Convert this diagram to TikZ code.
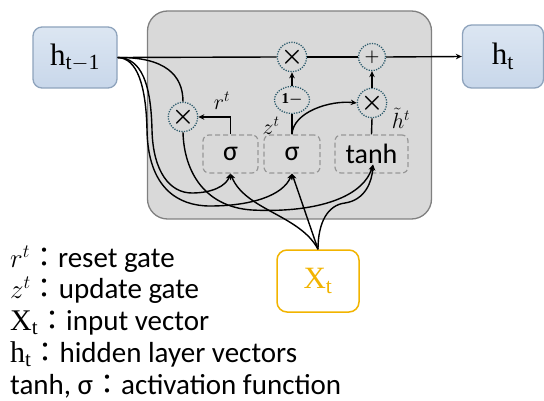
\RequirePackage{fix-cm}
\documentclass[tikz,border=0pt]{standalone}
\usepackage{amsmath}
\usepackage{fontspec}
\setmainfont{Liberation Serif}
\newfontfamily\calfont{Carlito}
\newfontfamily\cjk{Noto Sans CJK JP}
\usetikzlibrary{shapes.geometric,arrows.meta}
\definecolor{cellgray}{HTML}{D9D9D9}
\definecolor{cellborder}{HTML}{808080}
\definecolor{htop}{HTML}{DCE6F2}
\definecolor{hbot}{HTML}{C8D7EA}
\definecolor{hborder}{HTML}{8EA3BC}
\definecolor{dotc}{HTML}{2B5A6B}
\definecolor{xorange}{HTML}{F2B400}
\definecolor{dashc}{HTML}{979797}
\newcommand{\lgcolon}{{\cjk\fontsize{28}{30}\selectfont ：}}
\newcommand{\lgtxt}[1]{{\calfont\fontsize{29}{30}\selectfont #1}}
\newcommand{\lgvec}[2]{{\fontsize{30}{32}\selectfont$\mathrm{#1}_{\mathrm{#2}}$}}
\begin{document}
\begin{tikzpicture}[x=1pt,y=-1pt,
  ln/.style={line width=1.4pt},
  arr/.style={ln,-{Stealth[length=6pt,width=5.5pt]}},
  cellbox/.style={draw=cellborder, fill=cellgray, line width=1.3pt, rounded corners=20pt,
    minimum width=284pt, minimum height=208pt, inner sep=0pt},
  hbox/.style={draw=hborder, line width=1.3pt, rounded corners=9pt, top color=htop, bottom color=hbot,
    inner sep=0pt, font=\fontsize{31}{36}\selectfont},
  opc/.style={circle, draw=dotc, dash pattern=on 1.2pt off 1.3pt, line width=1.3pt, fill=cellgray,
    minimum size=27pt, inner sep=0pt},
  gatebox/.style={draw=dashc, dash pattern=on 5pt off 3pt, line width=1.2pt, rounded corners=6pt,
    minimum height=38pt, inner sep=0pt, font=\calfont\fontsize{28}{30}\selectfont},
  lab/.style={inner sep=0pt, font=\fontsize{22}{24}\selectfont},
  legend/.style={anchor=base west, inner sep=0pt, font=\fontsize{27}{30}\selectfont},
]
\useasboundingbox (0,0) rectangle (544,401);

% cell
\node[cellbox] (cell) at (289.5,115) {};

% h boxes
\node[hbox, minimum width=84pt, minimum height=61pt] (hprev) at (75,57.5) {$\mathrm{h}_{\mathrm{t-1}}$};
\node[hbox, minimum width=81pt, minimum height=63pt] (hnext) at (503,56.5) {$\mathrm{h}_{\mathrm{t}}$};

% operators
\node[opc] (mul1) at (292,57) {\fontsize{25}{26}\selectfont$\boldsymbol{\times}$};
\node[opc] (plus) at (372,57) {\fontsize{17}{20}\selectfont$\boldsymbol{+}$};
\node[opc, ellipse, minimum width=35pt, minimum height=27pt] (onem) at (292,100) {\fontsize{15}{18}\selectfont$\mathbf{1}\boldsymbol{-}$};
\node[opc] (mul2) at (372,103) {\fontsize{25}{26}\selectfont$\boldsymbol{\times}$};
\node[opc] (mulr) at (183,117) {\fontsize{25}{26}\selectfont$\boldsymbol{\times}$};

% gates
\node[gatebox, minimum width=55pt] (s1) at (230.5,154) {σ};
\node[gatebox, minimum width=56pt] (s2) at (292,154) {σ};
\node[gatebox, minimum width=73pt] (th) at (371.5,154) {tanh};

% input
\node[draw=xorange, line width=1.5pt, rounded corners=10pt, fill=white, minimum width=82pt, minimum height=62pt,
  inner sep=0pt, text=xorange, font=\fontsize{31}{36}\selectfont] (xin) at (318,281) {$\mathrm{X}_{\mathrm{t}}$};

% labels
\node[lab] (rl) at (222,101) {$r^{t}$};
\node[lab] (zl) at (271,126) {$z^{t}$};
\node[lab] (hl) at (401,118) {$\tilde{h}^{t}$};

% main line
\draw[ln] (hprev.east) -- (mul1.west);
\draw[ln] (mul1.east) -- (plus.west);
\draw[arr] (plus.east) -- (hnext.west);

% inside connections
\draw[arr] (onem.north) -- (mul1.south);
\draw[arr] (mul2.north) -- (plus.south);
\draw[ln] (th.north) -- (mul2.south);
\draw[ln] (s2.north) -- (onem.south);
\draw[arr] (s2.north) .. controls (293,112) and (330,100) .. (mul2.west);
\draw[arr] (s1.north) |- (mulr.east);
\draw[ln] (hprev.east) .. controls (165,57) and (183,75) .. (mulr.north);

% curves from the left
\draw[arr] (hprev.east) .. controls (142,58) and (151,85) .. (152,130)
  .. controls (153,172) and (170,193) .. (192,193)
  .. controls (212,193) and (226,186) .. (s1.south);
\draw[arr] (hprev.east) .. controls (137,58) and (146,85) .. (147,130)
  .. controls (148,188) and (178,206) .. (210,206)
  .. controls (250,206) and (283,196) .. (s2.south);
\draw[arr] (mulr.south) .. controls (184,172) and (205,207) .. (252,210)
  .. controls (310,213) and (362,200) .. ([yshift=9pt,xshift=1.5pt]th.south);

% curves from the input
\draw[arr] (xin.north) .. controls (300,215) and (245,210) .. (s1.south);
\draw[arr] (xin.north) -- (s2.south);
\draw[arr] (xin.north) .. controls (318,222) and (328,205) .. (345,203)
  .. controls (365,200) and (372,182) .. ([yshift=9pt,xshift=1.5pt]th.south);

% legend
\node[legend] (lg1) at (10,267) {$r^{t}$\lgcolon\lgtxt{reset gate}};
\node[legend] (lg2) at (10,298) {$z^{t}$\lgcolon\lgtxt{update gate}};
\node[legend] (lg3) at (10,330) {\lgvec{X}{t}\lgcolon\lgtxt{input vector}};
\node[legend] (lg4) at (10,362) {\lgvec{h}{t}\lgcolon\lgtxt{hidden layer vectors}};
\node[legend] (lg5) at (10,394) {\lgtxt{tanh, σ}\lgcolon\lgtxt{activation function}};
\end{tikzpicture}
\end{document}
